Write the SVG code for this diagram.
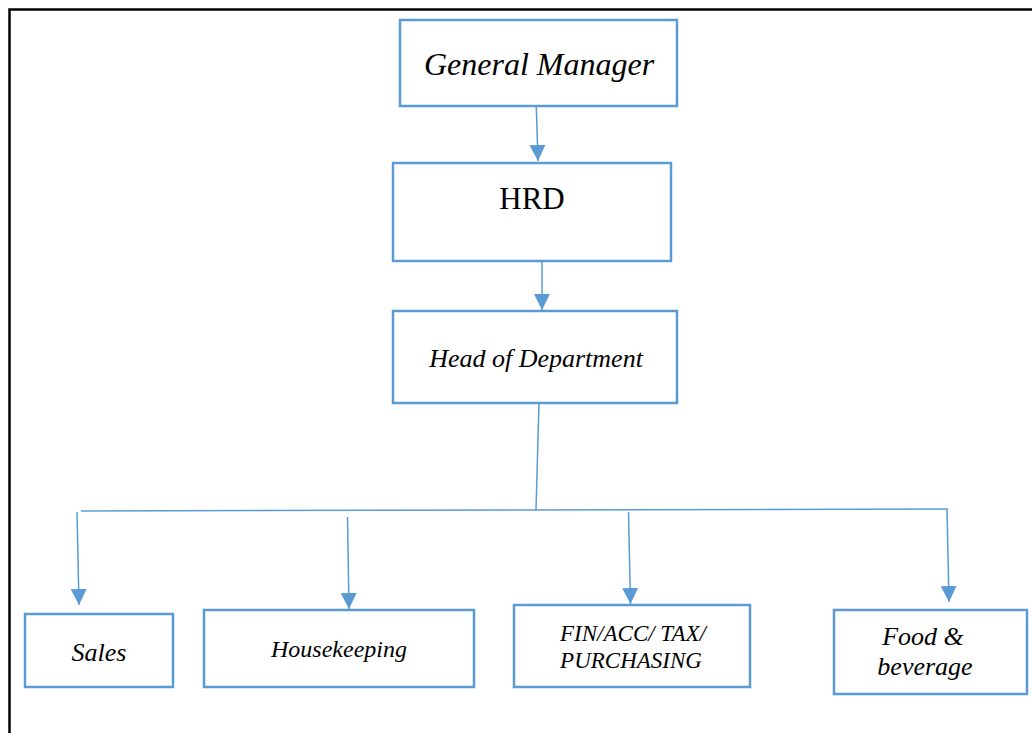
<svg xmlns="http://www.w3.org/2000/svg" width="1032" height="733" viewBox="0 0 1032 733">
<defs>
<style>
.box{fill:#fff;stroke:#5B9BD5;stroke-width:2.5}
.conn{fill:none;stroke:#5B9BD5;stroke-width:1.5}
.t{font-family:"Liberation Serif","Times New Roman",serif;fill:#000;text-anchor:middle}
.i{font-style:italic}
</style>
<marker id="arr" viewBox="0 0 16 16" refX="16" refY="8" markerWidth="16" markerHeight="16" markerUnits="userSpaceOnUse" orient="auto">
<path d="M0,0 L16,8 L0,16 Z" fill="#5B9BD5"/>
</marker>
</defs>
<rect width="1032" height="733" fill="#fff"/>
<path d="M9.5 733 V9.5 H1032" fill="none" stroke="#000" stroke-width="2.5"/>
<g id="connectors">
<line class="conn" x1="536" y1="98" x2="538" y2="161" marker-end="url(#arr)"/>
<line class="conn" x1="542" y1="261" x2="542" y2="310" marker-end="url(#arr)"/>
<line class="conn" x1="539" y1="403" x2="536" y2="510"/>
<line class="conn" x1="81" y1="511" x2="948" y2="509"/>
<line class="conn" x1="77" y1="512" x2="79" y2="605" marker-end="url(#arr)"/>
<line class="conn" x1="347.5" y1="517" x2="349" y2="609" marker-end="url(#arr)"/>
<line class="conn" x1="628.5" y1="512" x2="630.5" y2="604" marker-end="url(#arr)"/>
<line class="conn" x1="947" y1="509" x2="949" y2="602" marker-end="url(#arr)"/>
</g>
<g id="gm">
<rect class="box" x="400" y="20" width="277" height="86"/>
<text class="t i" x="539" y="75" font-size="32">General Manager</text>
</g>
<g id="hrd">
<rect class="box" x="393" y="163" width="278" height="98"/>
<text class="t" x="532" y="209" font-size="31">HRD</text>
</g>
<g id="hod">
<rect class="box" x="393" y="311" width="284" height="92"/>
<text class="t i" x="536" y="367" font-size="26">Head of Department</text>
</g>
<g id="sales">
<rect class="box" x="25" y="614" width="148" height="73"/>
<text class="t i" x="99" y="661" font-size="26">Sales</text>
</g>
<g id="housekeeping">
<rect class="box" x="204" y="610" width="270" height="77"/>
<text class="t i" x="339" y="657" font-size="24">Housekeeping</text>
</g>
<g id="fin">
<rect class="box" x="514" y="605" width="236" height="82"/>
<text class="t i" x="633" y="641" font-size="23">FIN/ACC/ TAX/</text>
<text class="t i" x="631" y="668" font-size="23">PURCHASING</text>
</g>
<g id="food">
<rect class="box" x="834" y="610" width="193" height="84"/>
<text class="t i" x="923" y="645" font-size="26">Food &amp;</text>
<text class="t i" x="925" y="675" font-size="26">beverage</text>
</g>
</svg>
